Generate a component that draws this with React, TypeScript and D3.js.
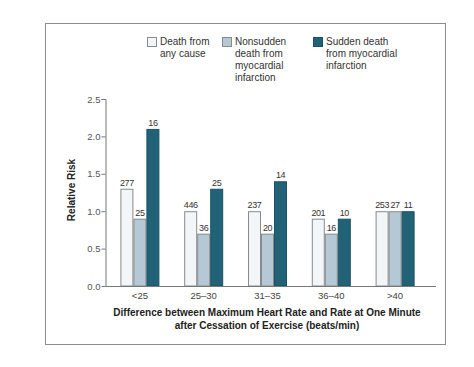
import React, { useEffect, useRef } from 'react';
import * as d3 from 'd3';

const categories = ['<25', '25–30', '31–35', '36–40', '>40'];
const seriesNames = [
  ['Death from', 'any cause'],
  ['Nonsudden', 'death from', 'myocardial', 'infarction'],
  ['Sudden death', 'from myocardial', 'infarction'],
];
const anyCause = [1.3, 1.0, 1.0, 0.9, 1.0];
const nonsudden = [0.9, 0.7, 0.7, 0.7, 1.0];
const sudden = [2.1, 1.3, 1.4, 0.9, 1.0];
const anyCauseN = [277, 446, 237, 201, 253];
const nonsuddenN = [25, 36, 20, 16, 27];
const suddenN = [16, 25, 14, 10, 11];
const yTicks = [0, 0.5, 1.0, 1.5, 2.0, 2.5];

const colors = ['#f2f6f9', '#b4c9d5', '#216277'];
const strokes = ['#8a8a8a', '#8a8a8a', '#1b5366'];
const font = 'Liberation Sans, Arial, sans-serif';

const App = () => {
  const svgRef = useRef<SVGSVGElement>(null);

  useEffect(() => {
    const svg = d3.select(svgRef.current);
    svg.selectAll('*').remove();

    // outer frame
    svg.append('rect')
      .attr('x', 45.5).attr('y', 23.5)
      .attr('width', 400).attr('height', 321)
      .attr('fill', 'white').attr('stroke', '#8c8c8c');

    const y = d3.scaleLinear().domain([0, 2.5]).range([286, 99]);
    const x = d3.scaleBand().domain(categories).range([108, 427]);
    const inner = d3.scaleBand().domain(['0', '1', '2']).range([0, 39]);
    const barW = 13;

    const series = [
      { vals: anyCause, ns: anyCauseN },
      { vals: nonsudden, ns: nonsuddenN },
      { vals: sudden, ns: suddenN },
    ];

    const g = svg.append('g');
    series.forEach((s, si) => {
      categories.forEach((c, ci) => {
        const x0 = x(c)! + (x.bandwidth() - 39) / 2 + inner(String(si))!;
        g.append('rect')
          .attr('x', x0 + 0.5)
          .attr('y', y(s.vals[ci]) + 0.5)
          .attr('width', barW - 1)
          .attr('height', y(0) - y(s.vals[ci]) - 0.5)
          .attr('fill', colors[si])
          .attr('stroke', strokes[si])
          .attr('stroke-width', 1);
        g.append('text')
          .attr('x', x0 + barW / 2)
          .attr('y', y(s.vals[ci]) - 3)
          .attr('text-anchor', 'middle')
          .attr('font-family', font)
          .attr('font-size', 9)
          .attr('letter-spacing', -0.4)
          .attr('fill', '#333')
          .text(s.ns[ci]);
      });
    });

    // y axis
    const yAxis = svg.append('g').attr('transform', 'translate(105.5,0)')
      .call(d3.axisLeft(y).tickValues(yTicks).tickFormat(d3.format('.1f')).tickSize(4));
    yAxis.select('.domain').attr('stroke', '#777').attr('d', 'M-4,99.5H0.5V286.5');
    yAxis.selectAll('.tick line').attr('stroke', '#777');
    yAxis.selectAll('text').attr('font-family', font).attr('font-size', 9.5).attr('fill', '#555').attr('x', -5);

    // x axis
    svg.append('line')
      .attr('x1', 105.5).attr('x2', 436)
      .attr('y1', 286.5).attr('y2', 286.5)
      .attr('stroke', '#777');
    categories.forEach(c => {
      svg.append('text')
        .attr('x', x(c)! + x.bandwidth() / 2)
        .attr('y', 299)
        .attr('text-anchor', 'middle')
        .attr('font-family', font)
        .attr('font-size', 9.5)
        .attr('fill', '#444')
        .text(c);
    });

    svg.append('text')
      .attr('transform', 'translate(75,190) rotate(-90)')
      .attr('text-anchor', 'middle')
      .attr('font-family', font)
      .attr('font-size', 10)
      .attr('font-weight', 'bold')
      .attr('fill', '#222')
      .text('Relative Risk');

    const xl = ['Difference between Maximum Heart Rate and Rate at One Minute', 'after Cessation of Exercise (beats/min)'];
    xl.forEach((t, i) => {
      svg.append('text')
        .attr('x', 267)
        .attr('y', 316 + i * 13)
        .attr('text-anchor', 'middle')
        .attr('font-family', font)
        .attr('font-size', 10)
        .attr('font-weight', 'bold')
        .attr('fill', '#222')
        .text(t);
    });

    // legend
    const legX = [147, 222, 313];
    seriesNames.forEach((lines, si) => {
      svg.append('rect')
        .attr('x', legX[si] + 0.5).attr('y', 37.5)
        .attr('width', 9).attr('height', 9)
        .attr('fill', colors[si]).attr('stroke', strokes[si]);
      lines.forEach((t, li) => {
        svg.append('text')
          .attr('x', legX[si] + 13)
          .attr('y', 45 + li * 12)
          .attr('font-family', font)
          .attr('font-size', 10)
          .attr('fill', '#333')
          .text(t);
      });
    });
  }, []);

  return (
    <svg ref={svgRef} width={474} height={367}
      style={{ position: 'absolute', left: 0, top: 0, background: 'white' }} />
  );
};

export default App;
